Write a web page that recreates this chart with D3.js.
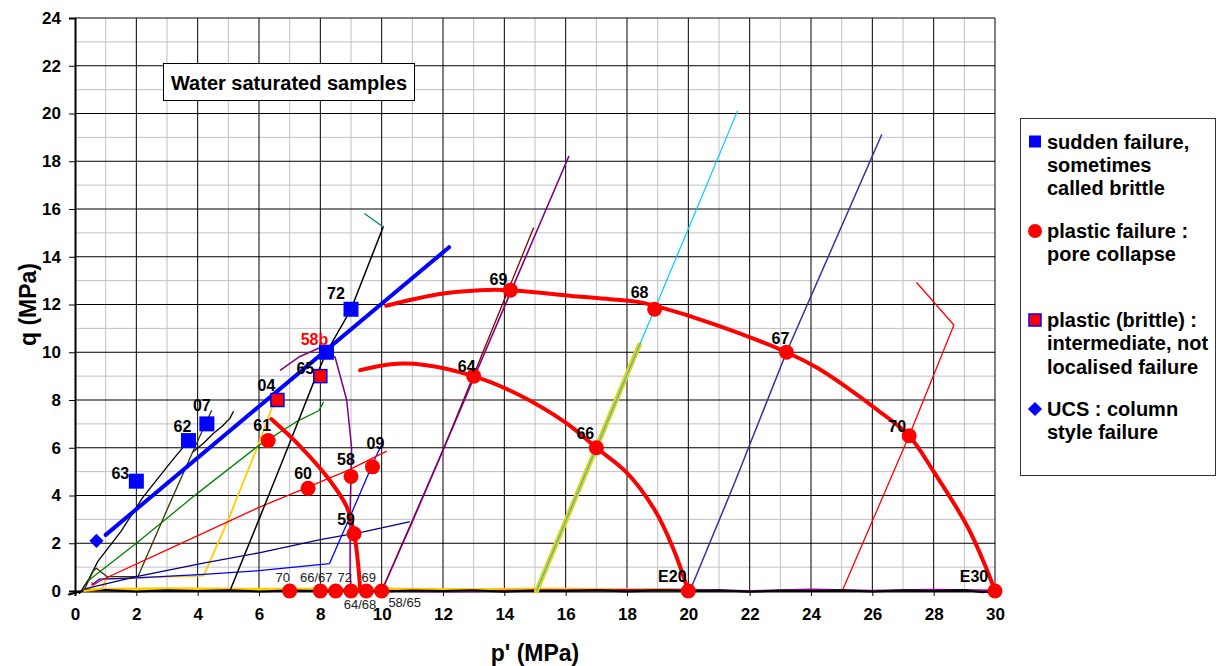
<!DOCTYPE html>
<html>
<head>
<meta charset="utf-8">
<script src="https://cdn.jsdelivr.net/npm/d3@7"></script>
<style>
  body { margin: 0; background: #fff; }
  svg text { font-family: "Liberation Sans", Arial, sans-serif; }
</style>
</head>
<body>
<svg id="grafico" width="1223" height="666"></svg>
<script>
// ---- DATOS ----
const xTicks = [0, 2, 4, 6, 8, 10, 12, 14, 16, 18, 20, 22, 24, 26, 28, 30];
const yTicks = [0, 2, 4, 6, 8, 10, 12, 14, 16, 18, 20, 22, 24];

// marcadores: falla subita (cuadrado azul)
const fallaSubita = [
  { id: "63", p: 2.0, q: 4.6 },
  { id: "62", p: 3.7, q: 6.3 },
  { id: "07", p: 4.3, q: 7.0 },
  { id: "58b", p: 8.2, q: 10.0 },
  { id: "72", p: 9.0, q: 11.8 }
];
// falla plastica (circulo rojo)
const fallaPlastica = [
  { id: "61", p: 6.3, q: 6.3 },
  { id: "60", p: 7.6, q: 4.3 },
  { id: "58", p: 9.0, q: 4.8 },
  { id: "09", p: 9.7, q: 5.2 },
  { id: "59", p: 9.1, q: 2.4 },
  { id: "64", p: 13.0, q: 9.0 },
  { id: "69", p: 14.2, q: 12.6 },
  { id: "66", p: 17.0, q: 6.0 },
  { id: "68", p: 18.9, q: 11.8 },
  { id: "67", p: 23.2, q: 10.0 },
  { id: "70", p: 27.2, q: 6.5 },
  { id: "E20", p: 20.0, q: 0 },
  { id: "E30", p: 30.0, q: 0 }
];
// puntos sobre el eje (colapso hidrostatico)
const puntosBase = [
  { id: "70", p: 7.0, q: 0 },
  { id: "66/67", p: 8.0, q: 0 },
  { id: "72", p: 8.5, q: 0 },
  { id: "64/68", p: 9.0, q: 0 },
  { id: "69", p: 9.5, q: 0 },
  { id: "58/65", p: 10.0, q: 0 }
];
// plastico (fragil): cuadrado rojo borde azul
const plasticoFragil = [
  { id: "04", p: 6.6, q: 8.0 },
  { id: "65", p: 8.0, q: 9.0 }
];
// UCS: rombo azul
const ucs = [{ id: "", p: 0.7, q: 2.1 }];

// recta de falla fragil (azul gruesa)
const rectaFragil = [[1.0, 2.35], [12.2, 14.4]];

// envolventes de fluencia (rojo grueso)
const envolvente1 = [[6.4, 7.2], [7.35, 6.05], [8.3, 4.65], [8.86, 3.53], [9.1, 2.42], [9.24, 1.02], [9.3, 0]];
const envolvente2 = [[9.3, 9.25], [10.3, 9.5], [11.4, 9.47], [13.0, 9.0], [14.5, 8.2], [16.0, 7.05], [17.0, 6.0],
  [18.0, 4.95], [18.9, 3.4], [19.5, 1.8], [20.0, 0]];
const envolvente3 = [[10.15, 11.95], [11.9, 12.44], [13.2, 12.6], [14.2, 12.6], [16.25, 12.35], [17.1, 12.26],
  [18.4, 12.1], [18.9, 11.95], [20.9, 11.15], [23.2, 10.0], [24.2, 9.35], [25.2, 8.5], [26.2, 7.55],
  [27.2, 6.5], [28.0, 5.0], [29.1, 2.7], [29.7, 1.0], [30.0, 0]];

// trayectorias de tension (lineas finas)
const trayectorias = {
  base_amarilla: [[0.3, 0.05], [3, 0.08], [6, 0.06], [10, 0.07], [13, 0.04], [15, 0.07], [18, 0.05], [20, 0.04]],
  base_morada: [[9, 0.02], [12, -0.02], [16, 0.03], [20, 0.05], [22, 0.0], [24, 0.06], [26, 0.01], [28, 0.05], [30, 0.02]],
  base_negra: [[-0.2, -0.15], [0.3, 0.02], [1, 0.04], [2, -0.02], [3, 0.03], [4, 0.0], [5, 0.03], [6, -0.02],
    [7, 0.02], [8, 0.0], [9, 0.04], [10, -0.02], [11, 0.02], [12, 0.0], [13, 0.03], [14, -0.03], [15, 0.02],
    [16, 0.0], [17, 0.03], [18, -0.02], [19, 0.02], [20, 0.0], [21, 0.03], [22, -0.03], [23, 0.02], [24, 0.0],
    [25, 0.03], [26, -0.02], [27, 0.03], [28, 0.0], [29, 0.04], [29.6, -0.05], [30, 0]],
  t62: [[0.15, -0.1], [0.45, 0.5], [0.75, 1.25], [1.5, 2.5], [2.2, 3.9], [3.0, 5.2], [3.7, 6.3]],
  t07b: [[3.86, 5.84], [4.2, 6.2], [4.51, 6.6], [4.8, 6.9], [5.05, 7.23], [5.16, 7.51]],
  t07: [[0.3, 0.05], [0.6, 0.85], [0.7, 0.95], [0.85, 0.8], [1.05, 0.6], [2.05, 0.6], [3.0, 3.4], [3.9, 6.0], [4.45, 7.55]],
  t04: [[0.3, 0.0], [0.9, 0.1], [1.0, 0.5], [2.0, 0.55], [4.2, 0.65], [5.0, 3.0], [6.0, 6.2], [6.6, 8.3]],
  t09: [[0.55, 0.25], [0.8, 0.5], [2.0, 0.55], [4.2, 0.7], [6.0, 0.85], [8.3, 1.15], [9.2, 3.8], [9.8, 5.6], [10.05, 6.25]],
  t60: [[0.55, 0.35], [0.6, 0.25], [0.85, 0.45], [3.0, 1.72], [6.0, 3.5], [7.4, 4.25], [8.9, 5.05], [10.15, 5.85]],
  t59: [[0.35, 0.1], [2.0, 0.6], [4.1, 1.15], [6.0, 1.6], [8.0, 2.15], [9.4, 2.48], [10.9, 2.9]],
  t61: [[0.45, 0.45], [2.0, 2.0], [4.0, 4.1], [6.0, 6.1], [7.3, 7.15], [7.95, 7.55], [8.1, 7.9]],
  t72: [[5.05, 0], [6.0, 3.0], [7.0, 6.2], [7.8, 8.8], [8.2, 10.0], [9.0, 11.8], [10.05, 15.25]],
  t72cola: [[10.05, 15.25], [9.45, 15.8]],
  t58b: [[9.0, 0], [8.97, 0.75], [8.97, 3.25], [9.02, 6.0], [8.86, 8.0], [8.48, 9.8], [8.0, 10.2], [7.3, 9.8], [6.7, 9.25]],
  t64: [[10.0, 0], [12.0, 5.9], [14.95, 15.2]],
  t69: [[10.0, 0], [11.0, 2.9], [12.0, 5.9], [13.0, 8.9], [14.0, 11.9], [15.0, 14.9], [16.1, 18.2]],
  t66: [[15.05, 0], [17.0, 6.0], [18.4, 10.3]],
  t68: [[15.05, 0], [17.0, 6.0], [18.9, 11.8], [20.5, 16.7], [21.6, 20.1]],
  t67: [[20.05, 0], [21.5, 4.5], [23.2, 10.0], [26.3, 19.1]],
  t70: [[25.05, 0.1], [27.2, 6.5], [28.66, 11.14], [27.45, 12.91]]
};

// estilos de cada trayectoria (separados de los datos)
const estiloTray = {
  base_amarilla: { c: "#ffcc00", w: 3.5 },
  base_morada: { c: "#990099", w: 2 },
  base_negra: { c: "#000000", w: 2 },
  t62: { c: "#000000", w: 1.3 },
  t07b: { c: "#000000", w: 1.3 },
  t07: { c: "#333300", w: 1.3 },
  t04: { c: "#ffcc00", w: 1.8 },
  t09: { c: "#0000ff", w: 1.3 },
  t60: { c: "#ff0000", w: 1.3 },
  t59: { c: "#000080", w: 1.3 },
  t61: { c: "#008000", w: 1.3 },
  t72: { c: "#000000", w: 1.5 },
  t72cola: { c: "#008080", w: 1.3 },
  t58b: { c: "#800080", w: 1.5 },
  t64: { c: "#800000", w: 1.3 },
  t69: { c: "#800080", w: 1.6 },
  t66: { c: "#ffcc00", w: 5 },
  t68: { c: "#00ccff", w: 1.2 },
  t67: { c: "#333399", w: 1.5 },
  t70: { c: "#ff0000", w: 1.3 }
};

// desplazamiento de las etiquetas respecto al marcador
const desplEtiqueta = {
  "63": [-16, -8], "62": [-6, -14], "07": [-5, -18], "58b": [-12, -13], "72": [-15, -16],
  "61": [-6, -15], "60": [-5, -15], "58": [-5, -17], "09": [3, -23], "59": [-8, -14],
  "64": [-7, -10], "69": [-12, -11], "66": [-11, -14], "68": [-15, -17], "67": [-6, -14],
  "70": [-12, -9], "E20": [-16, -15], "E30": [-21, -15], "04": [-11, -15], "65": [-15, -8]
};
const desplBase = {
  "70": [-7, -14], "66/67": [-4, -14], "72": [9, -14], "64/68": [9, 13], "69": [2.5, -14], "58/65": [23, 11]
};

// ---- SVG y escalas ----
const svg = d3.select("#grafico");
const x = d3.scaleLinear().domain([0, 30]).range([75, 995]);
const y = d3.scaleLinear().domain([0, 24]).range([591, 18]);

// rejilla: menor (gris) en impares, mayor (negra) en pares
const g = svg.append("g").attr("class", "rejilla");
const menoresX = d3.range(1, 30, 2), menoresY = d3.range(1, 24, 2);
g.selectAll(".vmenor").data(menoresX).enter().append("line")
  .attr("x1", d => x(d)).attr("x2", d => x(d)).attr("y1", y(0)).attr("y2", y(24))
  .attr("stroke", "#c0c0c0").attr("stroke-width", 1);
g.selectAll(".hmenor").data(menoresY).enter().append("line")
  .attr("x1", x(0)).attr("x2", x(30)).attr("y1", d => y(d)).attr("y2", d => y(d))
  .attr("stroke", "#c0c0c0").attr("stroke-width", 1);
g.selectAll(".vmayor").data(xTicks.slice(1)).enter().append("line")
  .attr("x1", d => x(d)).attr("x2", d => x(d)).attr("y1", y(0)).attr("y2", y(24))
  .attr("stroke", "#000").attr("stroke-width", 1);
g.selectAll(".hmayor").data(yTicks.slice(1)).enter().append("line")
  .attr("x1", x(0)).attr("x2", x(30)).attr("y1", d => y(d)).attr("y2", d => y(d))
  .attr("stroke", "#000").attr("stroke-width", 1);

// ejes
const ejeX = svg.append("g").attr("transform", `translate(0,${y(0)})`)
  .call(d3.axisBottom(x).tickValues(xTicks).tickSize(5).tickPadding(10));
const ejeY = svg.append("g").attr("transform", `translate(${x(0)},0)`)
  .call(d3.axisLeft(y).tickValues(yTicks).tickSize(6).tickPadding(8));
[ejeX, ejeY].forEach(e => {
  e.select(".domain").attr("stroke", "#000").attr("stroke-width", 2);
  e.selectAll(".tick line").attr("stroke", "#000");
  e.selectAll(".tick text").attr("font-size", 17).attr("font-weight", "bold")
    .attr("fill", "#000").style("font-family", "'Liberation Sans', Arial, sans-serif");
});
ejeX.selectAll(".tick text").attr("dy", "0.85em");

// titulos de ejes
svg.append("text").attr("x", x(15)).attr("y", 661).attr("text-anchor", "middle")
  .attr("font-size", 23).attr("font-weight", "bold").text("p' (MPa)");
svg.append("text").attr("transform", `translate(36,${y(12)}) rotate(-90)`)
  .attr("text-anchor", "middle").attr("font-size", 23).attr("font-weight", "bold").text("q (MPa)");

// ---- lineas ----
const linea = d3.line().x(d => x(d[0])).y(d => y(d[1]));
const curva = d3.line().x(d => x(d[0])).y(d => y(d[1])).curve(d3.curveCatmullRom.alpha(0.5));

const gl = svg.append("g").attr("fill", "none").attr("stroke-linejoin", "round").attr("stroke-linecap", "round");
Object.keys(trayectorias).forEach(k => {
  gl.append("path").attr("d", linea(trayectorias[k]))
    .attr("stroke", estiloTray[k].c).attr("stroke-width", estiloTray[k].w);
});

[envolvente1, envolvente2, envolvente3].forEach(env => {
  gl.append("path").attr("d", curva(env)).attr("stroke", "#ff0000").attr("stroke-width", 4);
});
gl.append("path").attr("d", linea(rectaFragil)).attr("stroke", "#0000ff").attr("stroke-width", 4);

// ---- marcadores ----
const gm = svg.append("g");
gm.selectAll(".subita").data(fallaSubita).enter().append("rect")
  .attr("x", d => x(d.p) - 7.5).attr("y", d => y(d.q) - 7.5).attr("width", 15).attr("height", 15)
  .attr("fill", "#0000ff");
gm.selectAll(".pfragil").data(plasticoFragil).enter().append("rect")
  .attr("x", d => x(d.p) - 6.5).attr("y", d => y(d.q) - 6.5).attr("width", 13).attr("height", 13)
  .attr("fill", "#ff0000").attr("stroke", "#0000ff").attr("stroke-width", 1.5);
gm.selectAll(".plastica").data(fallaPlastica.concat(puntosBase)).enter().append("circle")
  .attr("cx", d => x(d.p)).attr("cy", d => y(d.q)).attr("r", 7.5).attr("fill", "#ff0000");
gm.selectAll(".ucs").data(ucs).enter().append("path")
  .attr("transform", d => `translate(${x(d.p)},${y(d.q)}) rotate(45)`)
  .attr("d", "M-5,-5H5V5H-5Z").attr("fill", "#0000ff");

// ---- etiquetas ----
const ge = svg.append("g");
ge.selectAll(".etq").data(fallaSubita.concat(fallaPlastica, plasticoFragil)).enter().append("text")
  .attr("x", d => x(d.p) + desplEtiqueta[d.id][0])
  .attr("y", d => y(d.q) + desplEtiqueta[d.id][1])
  .attr("text-anchor", "middle").attr("dominant-baseline", "central")
  .attr("font-size", 16).attr("font-weight", "bold")
  .attr("fill", d => d.id === "58b" ? "#ff0000" : "#000")
  .text(d => d.id);
ge.selectAll(".etqbase").data(puntosBase).enter().append("text")
  .attr("x", d => x(d.p) + desplBase[d.id][0])
  .attr("y", d => y(d.q) + desplBase[d.id][1])
  .attr("text-anchor", "middle").attr("dominant-baseline", "central")
  .attr("font-size", 13).attr("fill", "#222")
  .text(d => d.id);

// caja de titulo
svg.append("rect").attr("x", 163.5).attr("y", 63.5).attr("width", 251).attr("height", 37)
  .attr("fill", "#fff").attr("stroke", "#000").attr("stroke-width", 1);
svg.append("text").attr("x", 289).attr("y", 83).attr("text-anchor", "middle")
  .attr("dominant-baseline", "central").attr("font-size", 20).attr("font-weight", "bold")
  .text("Water saturated samples");

// ---- leyenda ----
const leyenda = [
  { tipo: "subita", lineas: ["sudden failure,", "sometimes", "called brittle"], y0: 141.5 },
  { tipo: "plastica", lineas: ["plastic failure :", "pore collapse"], y0: 231 },
  { tipo: "pfragil", lineas: ["plastic (brittle) :", "intermediate, not", "localised failure"], y0: 320 },
  { tipo: "ucs", lineas: ["UCS : column", "style failure"], y0: 409 }
];
const gley = svg.append("g");
gley.append("rect").attr("x", 1020.5).attr("y", 118.5).attr("width", 195).attr("height", 357)
  .attr("fill", "#fff").attr("stroke", "#333").attr("stroke-width", 1);
leyenda.forEach(it => {
  const cx = 1035, cy = it.y0;
  if (it.tipo === "subita") {
    gley.append("rect").attr("x", cx - 6).attr("y", cy - 6).attr("width", 12).attr("height", 12).attr("fill", "#0000ff");
  } else if (it.tipo === "plastica") {
    gley.append("circle").attr("cx", cx).attr("cy", cy).attr("r", 7).attr("fill", "#ff0000");
  } else if (it.tipo === "pfragil") {
    gley.append("rect").attr("x", cx - 6).attr("y", cy - 6).attr("width", 12).attr("height", 12)
      .attr("fill", "#ff0000").attr("stroke", "#0000ff").attr("stroke-width", 1.5);
  } else {
    gley.append("path").attr("transform", `translate(${cx},${cy}) rotate(45)`)
      .attr("d", "M-5,-5H5V5H-5Z").attr("fill", "#0000ff");
  }
  it.lineas.forEach((t, i) => {
    gley.append("text").attr("x", 1047).attr("y", cy + i * 23.3)
      .attr("dominant-baseline", "central").attr("font-size", 20).attr("font-weight", "bold")
      .text(t);
  });
});
</script>
</body>
</html>
